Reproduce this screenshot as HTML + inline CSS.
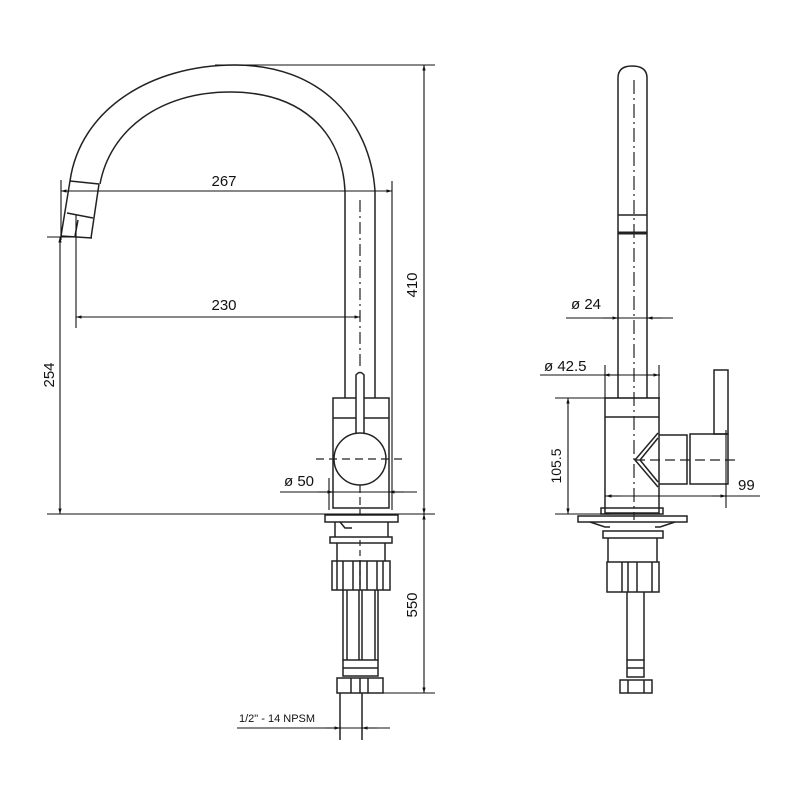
<!DOCTYPE html>
<html><head><meta charset="utf-8"><style>
html,body{margin:0;padding:0;background:#fff}
svg{display:block}
text{font-family:"Liberation Sans",Arial,sans-serif;fill:#111}
</style></head><body>
<svg width="800" height="800" viewBox="0 0 800 800" xmlns="http://www.w3.org/2000/svg">
<defs>
<marker id="a" viewBox="0 0 10 10" refX="10" refY="5" markerWidth="8" markerHeight="5" orient="auto-start-reverse"><path d="M0,2 L10,5 L0,8z" fill="#111"/></marker>
</defs>
<g fill="none" stroke="#222" stroke-width="1.5">
<!-- LEFT VIEW spout -->
<path d="M70,181 C80,110 150,65 235,65 C320,65 370,120 375,191"/>
<path d="M100,184 C110,130 160,92 230,92 C300,92 342,130 345,191"/>
<path d="M70,181 L61,236 M99,184 L91,238 M70,181 L99,184 M67,213 L93,218 M61,236 L92,238 M78,220 L75,236"/>
<!-- pillar -->
<path d="M345,191 L345,398 M375,191 L375,398"/>
<line x1="360" y1="200" x2="360" y2="370" stroke-dasharray="12,4,2,4" stroke-width="1.2"/>
<!-- body -->
<rect x="333" y="398" width="56" height="110"/>
<line x1="333" y1="418" x2="389" y2="418"/>
<path d="M356,445 L356,375 Q360,370 364,375 L364,445" fill="#fff"/>
<circle cx="360" cy="459" r="26" fill="#fff"/>
<line x1="316" y1="459" x2="404" y2="459" stroke-dasharray="8,5" stroke-width="1.2"/>
<line x1="360" y1="485" x2="360" y2="514" stroke-dasharray="8,4" stroke-width="1.2"/>
<!-- base assembly left -->
<rect x="325" y="515" width="73" height="7"/>
<path d="M335,522 L335,537 M388,522 L388,537 M340,522 L345,528 L352,528"/>
<rect x="330" y="537" width="62" height="6"/>
<path d="M337,543 L337,561 M385,543 L385,561"/>
<rect x="332" y="561" width="58" height="29"/>
<path d="M337,561 V590 M343,561 V590 M353,561 V590 M360,561 V590 M367,561 V590 M377,561 V590 M383,561 V590"/>
<path d="M343,590 V660 M347,590 V660 M359,590 V660 M362,590 V660 M375,590 V660 M378,590 V660"/>
<rect x="343" y="660" width="35" height="16"/>
<line x1="343" y1="668" x2="378" y2="668"/>
<rect x="337" y="678" width="46" height="15"/>
<path d="M351,678 V693 M360,678 V693 M368,678 V693"/>
<path d="M340,693 V740 M362,693 V740"/>
<line x1="360" y1="540" x2="360" y2="590" stroke-dasharray="6,4" stroke-width="1.2"/>

<!-- RIGHT VIEW -->
<path d="M618,398 L618,78 Q618,66 632,66 Q647,66 647,78 L647,398"/>
<path d="M618,215 L647,215"/>
<line x1="618" y1="233" x2="647" y2="233" stroke-width="3"/>
<line x1="634" y1="80" x2="634" y2="520" stroke-dasharray="14,4,2,4" stroke-width="1.2"/>
<rect x="605" y="398" width="54" height="115"/>
<line x1="605" y1="417" x2="659" y2="417"/>
<path d="M658,433 L635,460 L658,487 M658,438 L640,460 L658,482"/>
<path d="M659,435 H687 V484 H659"/>
<rect x="690" y="434" width="38" height="50"/>
<rect x="714" y="370" width="14" height="64"/>
<line x1="635" y1="460" x2="738" y2="460" stroke-dasharray="10,5" stroke-width="1.2"/>
<rect x="601" y="508" width="62" height="6"/>
<rect x="578" y="516" width="109" height="6"/>
<path d="M590,522 L605,527 L610,527 M675,522 L660,527 L655,527"/>
<rect x="603" y="531" width="60" height="7"/>
<path d="M608,538 V562 M657,538 V562"/>
<rect x="607" y="562" width="52" height="30"/>
<path d="M622,562 V592 M628,562 V592 M637,562 V592 M652,562 V592"/>
<path d="M627,592 V660 M644,592 V660"/>
<rect x="627" y="660" width="17" height="17"/>
<line x1="627" y1="668" x2="644" y2="668"/>
<rect x="620" y="680" width="32" height="13"/>
<path d="M628,680 V693 M644,680 V693"/>
</g>

<!-- dimension lines -->
<g fill="none" stroke="#111" stroke-width="1.1">
<line x1="61" y1="191" x2="392" y2="191" marker-start="url(#a)" marker-end="url(#a)"/>
<line x1="61" y1="180" x2="61" y2="240"/>
<line x1="392" y1="181" x2="392" y2="510"/>
<line x1="76" y1="317" x2="360" y2="317" marker-start="url(#a)" marker-end="url(#a)"/>
<line x1="76" y1="215" x2="76" y2="328"/>
<line x1="60" y1="237" x2="60" y2="514" marker-start="url(#a)" marker-end="url(#a)"/>
<line x1="47" y1="237" x2="75" y2="237"/>
<line x1="47" y1="514" x2="435" y2="514"/>
<line x1="215" y1="65" x2="435" y2="65"/>
<line x1="424" y1="65" x2="424" y2="514" marker-start="url(#a)" marker-end="url(#a)"/>
<line x1="424" y1="514" x2="424" y2="693" marker-start="url(#a)" marker-end="url(#a)"/>
<line x1="383" y1="693" x2="435" y2="693"/>
<line x1="280" y1="492" x2="417" y2="492"/>
<path d="M318,492 L333,492" marker-end="url(#a)"/>
<path d="M404,492 L389,492" marker-end="url(#a)"/>
<line x1="329" y1="478" x2="329" y2="510"/>
<line x1="237" y1="728" x2="390" y2="728"/>
<path d="M325,728 L340,728" marker-end="url(#a)"/>
<path d="M377,728 L362,728" marker-end="url(#a)"/>

<line x1="566" y1="318" x2="673" y2="318"/>
<path d="M603,318 L618,318" marker-end="url(#a)"/>
<path d="M662,318 L647,318" marker-end="url(#a)"/>
<line x1="540" y1="375" x2="660" y2="375"/>
<path d="M604,375 L618,375" marker-start="url(#a)"/>
<path d="M647,375 L659,375" marker-end="url(#a)"/>
<line x1="605" y1="365" x2="605" y2="398"/>
<line x1="659" y1="365" x2="659" y2="398"/>
<line x1="555" y1="398" x2="660" y2="398"/>
<line x1="555" y1="514" x2="610" y2="514"/>
<line x1="568" y1="398" x2="568" y2="514" marker-start="url(#a)" marker-end="url(#a)"/>
<line x1="605" y1="496" x2="760" y2="496"/>
<path d="M620,496 L606,496" marker-end="url(#a)"/>
<path d="M712,496 L726,496" marker-end="url(#a)"/>
<line x1="726" y1="430" x2="726" y2="508"/>
</g>

<g font-size="15">
<text x="224" y="186" text-anchor="middle">267</text>
<text x="224" y="310" text-anchor="middle">230</text>
<text transform="translate(54,375) rotate(-90)" text-anchor="middle">254</text>
<text transform="translate(417,285) rotate(-90)" text-anchor="middle">410</text>
<text transform="translate(417,605) rotate(-90)" text-anchor="middle">550</text>
<text x="284" y="486">ø 50</text>
<text x="571" y="309">ø 24</text>
<text x="544" y="371">ø 42.5</text>
<text transform="translate(561,466) rotate(-90)" text-anchor="middle" font-size="14">105.5</text>
<text x="738" y="490">99</text>
<text x="239" y="722" font-size="11">1/2" - 14 NPSM</text>
</g>
</svg>
</body></html>
